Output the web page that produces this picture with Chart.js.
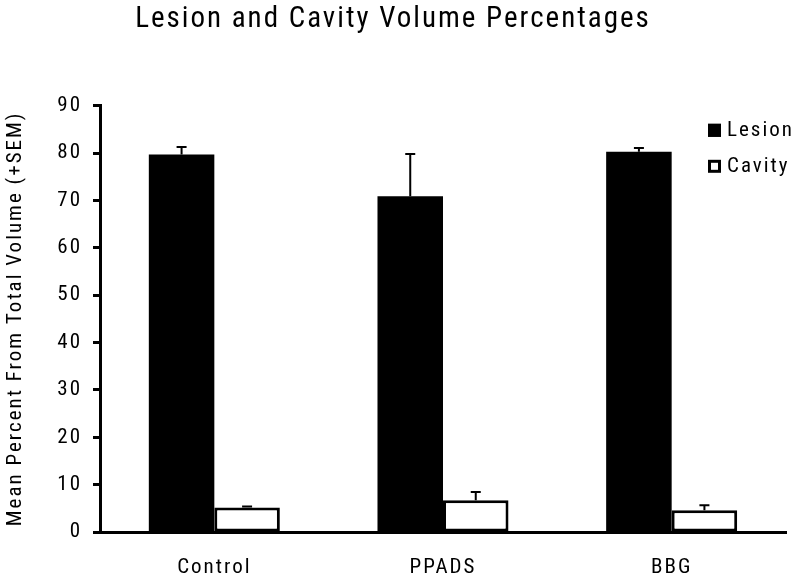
<!DOCTYPE html>
<html>
<head>
<meta charset="utf-8">
<script src="https://cdn.jsdelivr.net/npm/chart.js@4/dist/chart.umd.min.js"></script>
<style>
  html, body { margin: 0; padding: 0; background: #fff; }
  #wrap { width: 800px; height: 581px; }
</style>
</head>
<body>
<div id="wrap"><canvas id="chart"></canvas></div>
<script>
const groups = ['Control', 'PPADS', 'BBG']
const lesionMean = [79.7, 70.9, 80.3]
const lesionSem = [1.6, 8.9, 0.8]
const cavityMean = [5.15, 6.7, 4.6]
const cavitySem = [0.25, 1.75, 1.05]
const yMin = 0
const yMax = 90
const yStep = 10

const FONT = "'Roboto Condensed', 'Liberation Sans', Arial, sans-serif"

// canvas letter spacing (reset whenever the canvas is resized)
const spacing = {
    id: 'spacing',
    beforeLayout(chart) { chart.ctx.letterSpacing = '2px' },
    beforeDraw(chart) { chart.ctx.letterSpacing = '2px' }
}

// upward SEM whiskers
const errorBars = {
    id: 'errorBars',
    afterDatasetsDraw(chart) {
        let ctx = chart.ctx
        let y = chart.scales.y
        ctx.save()
        ctx.strokeStyle = '#000'
        ctx.lineWidth = 2
        chart.data.datasets.forEach((ds, i) => {
            let meta = chart.getDatasetMeta(i)
            meta.data.forEach((bar, j) => {
                let top = y.getPixelForValue(ds.data[j] + ds.sem[j])
                ctx.beginPath()
                ctx.moveTo(bar.x, bar.y)
                ctx.lineTo(bar.x, top)
                ctx.moveTo(bar.x - 5, top)
                ctx.lineTo(bar.x + 5, top)
                ctx.stroke()
            })
        })
        ctx.restore()
    }
}

// legend inside the plot, upper right
const boxLegend = {
    id: 'boxLegend',
    afterDraw(chart) {
        let ctx = chart.ctx
        let area = chart.chartArea
        ctx.save()
        ctx.letterSpacing = '2px'
        ctx.font = '21px ' + FONT
        ctx.textBaseline = 'middle'
        ctx.textAlign = 'left'
        chart.data.datasets.forEach((ds, i) => {
            let x = area.right - 78
            let cy = area.top + 24 + i * 36
            ctx.fillStyle = ds.backgroundColor
            ctx.fillRect(x, cy - 6, 13, 13)
            ctx.strokeStyle = '#000'
            ctx.lineWidth = 3
            ctx.strokeRect(x + 1.5, cy - 4.5, 10, 10)
            ctx.fillStyle = '#000'
            ctx.fillText(ds.label, x + 19, cy + 1)
        })
        ctx.restore()
    }
}

new Chart(document.getElementById('chart').getContext('2d'), {
    type: 'bar',
    data: {
        labels: groups,
        datasets: [{
            label: 'Lesion',
            data: lesionMean,
            sem: lesionSem,
            backgroundColor: '#000',
            borderColor: '#000',
            borderWidth: 0
        }, {
            label: 'Cavity',
            data: cavityMean,
            sem: cavitySem,
            backgroundColor: '#fff',
            borderColor: '#000',
            borderWidth: 3,
            borderSkipped: false
        }]
    },
    options: {
        responsive: true,
        maintainAspectRatio: false,
        animation: false,
        categoryPercentage: 0.573,
        barPercentage: 1,
        layout: { padding: { left: 0, right: 14, top: 0, bottom: 0 } },
        plugins: {
            legend: { display: false },
            tooltip: { enabled: false },
            title: {
                display: true,
                text: 'Lesion and Cavity Volume Percentages',
                color: '#000',
                font: { family: FONT, size: 29, weight: 'normal' },
                padding: { top: 2, bottom: 69 }
            }
        },
        scales: {
            x: {
                grid: { display: false },
                border: { display: true, color: '#000', width: 3 },
                ticks: {
                    color: '#000',
                    padding: 15,
                    font: { family: FONT, size: 21 }
                },
                afterFit(scale) { scale.height = 49 }
            },
            y: {
                min: yMin,
                max: yMax,
                grid: {
                    display: true,
                    drawOnChartArea: false,
                    drawTicks: true,
                    tickLength: 7,
                    tickWidth: 3,
                    tickColor: '#000'
                },
                border: { display: true, color: '#000', width: 3 },
                ticks: {
                    stepSize: yStep,
                    color: '#000',
                    padding: 11,
                    font: { family: FONT, size: 21 }
                },
                title: {
                    display: true,
                    text: 'Mean Percent From Total Volume (+SEM)',
                    color: '#000',
                    font: { family: FONT, size: 21 },
                    padding: { top: 3, bottom: 0 }
                },
                afterFit(scale) { scale.width = 100 }
            }
        }
    },
    plugins: [spacing, errorBars, boxLegend]
})
</script>
</body>
</html>
